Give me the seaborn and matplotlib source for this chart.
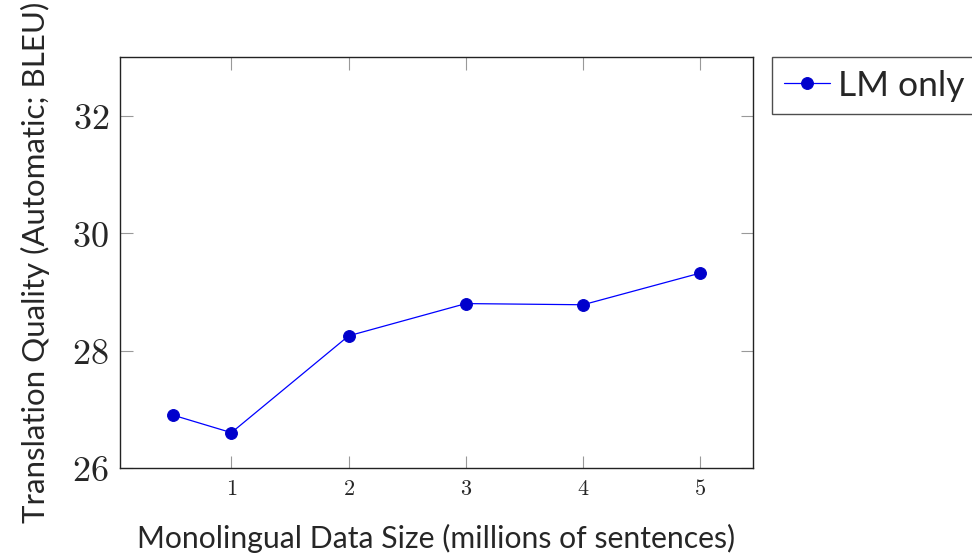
import pandas as pd
import matplotlib.pyplot as plt
import seaborn as sns

# data
data_size = [0.5, 1, 2, 3, 4, 5]
bleu_lm_only = [26.9, 26.6, 28.25, 28.8, 28.78, 29.32]
x_ticks = [1, 2, 3, 4, 5]
y_ticks = [26, 28, 30, 32]

df = pd.DataFrame({'size': data_size, 'bleu': bleu_lm_only, 'system': 'LM only'})

sns.set_style('ticks')
plt.rcParams['font.family'] = ['Lato', 'DejaVu Sans']
plt.rcParams['mathtext.fontset'] = 'cm'

fig = plt.figure(figsize=(9.72, 5.55), dpi=100)
ax = fig.add_axes([0.1235, 0.157, 0.6512, 0.740])

sns.lineplot(data=df, x='size', y='bleu', hue='system', palette=['#0000ff'],
             marker='o', markersize=8.5, markerfacecolor='#0000cc',
             markeredgecolor='#0000cc', linewidth=0.9, ax=ax)

ax.set_xlim(0.05, 5.45)
ax.set_ylim(26, 33)
ax.set_xticks(x_ticks)
ax.set_xticklabels([f'${t}$' for t in x_ticks], fontsize=16)
ax.set_yticks(y_ticks)
ax.set_yticklabels([f'${t}$' for t in y_ticks], fontsize=26)
ax.tick_params(direction='in', length=9, width=0.8, color='#999999',
               top=True, right=True, pad=8)
for s in ax.spines.values():
    s.set_color('#222222')
    s.set_linewidth(1.0)

ax.set_xlabel('Monolingual Data Size (millions of sentences)', fontsize=21.7, labelpad=18)
ax.set_ylabel('Translation Quality (Automatic; BLEU)', fontsize=22.5, labelpad=16)

leg = ax.legend(loc='upper left', bbox_to_anchor=(1.03, 1.0), fontsize=25.5,
                frameon=True, fancybox=False, handlelength=1.3, borderpad=0.35,
                handletextpad=0.2, borderaxespad=0)
leg.get_frame().set_edgecolor('#222222')
leg.get_frame().set_linewidth(1.0)

fig.savefig('out.png', dpi=100)
